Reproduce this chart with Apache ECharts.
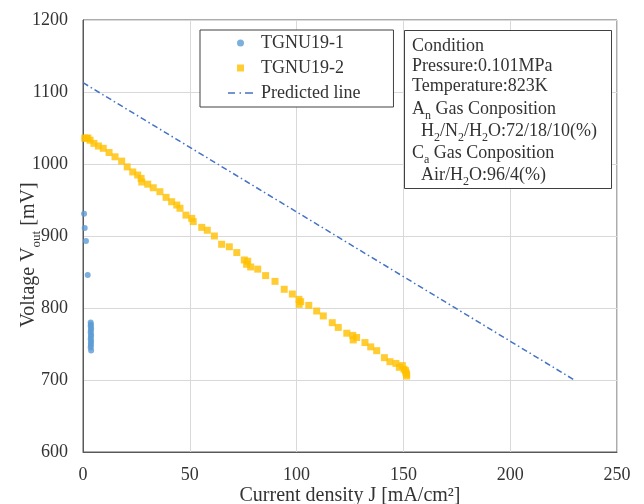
<!DOCTYPE html>
<html>
<head>
<meta charset="utf-8">
<script src="https://cdn.jsdelivr.net/npm/echarts@6/dist/echarts.min.js"></script>
<style>html,body{margin:0;padding:0;background:#fff}#c{width:644px;height:504px}</style>
</head>
<body>
<div id="c"></div>
<script>
// ---- data ----
var xTicks = [0, 50, 100, 150, 200, 250];
var yTicks = [600, 700, 800, 900, 1000, 1100, 1200];
var tgnu1J = [0.5, 0.8, 1.4, 2.2, 3.6, 3.7, 3.6, 3.8, 3.7, 3.6, 3.8, 3.7, 3.6, 3.8, 3.7, 3.7, 3.6, 3.8];
var tgnu1V = [931, 911, 893, 846, 780, 777, 775, 772, 769, 766, 763, 760, 757, 754, 751, 748, 745, 741];
var tgnu2J = [0.8, 1.7, 2.3, 3.3, 5.1, 7.2, 9.5, 12.2, 15.0, 18.1, 20.7, 23.3, 25.6, 27.2, 27.5, 30.3, 32.9, 36.0, 38.9, 41.5, 43.9, 45.4, 48.2, 50.9, 51.6, 55.6, 58.2, 61.5, 64.9, 68.5, 72.0, 75.5, 77.1, 76.6, 78.5, 81.8, 85.5, 89.9, 94.2, 98.0, 101.1, 101.9, 101.2, 105.7, 109.4, 112.5, 116.7, 119.5, 123.5, 126.3, 128.1, 126.5, 132.0, 134.7, 137.5, 141.1, 143.7, 146.5, 148.1, 149.5, 150.3, 151.0, 151.2, 151.5, 151.5];
var tgnu2V = [1036, 1035.7, 1036, 1033, 1028.7, 1025, 1021.8, 1016, 1010, 1004, 996, 989, 984.7, 980, 975, 972, 967, 961.5, 953.7, 947.6, 943, 938.5, 929, 924.5, 920, 912, 908, 900, 888.5, 885, 877, 866.7, 865, 860.7, 857, 854, 845, 837, 826, 819.4, 812, 808.8, 805, 803.7, 795.8, 789, 779.6, 773, 765, 762, 759, 755.6, 752, 746, 740.7, 731, 725.4, 723, 717.6, 720, 715, 713, 710, 708, 705.5];
var predJ = [0, 230];
var predV = [1113, 700];
var seriesNames = ['TGNU19-1', 'TGNU19-2', 'Predicted line'];
var conditionLines = [
  '{m|Condition}',
  '{m|Pressure:0.101MPa}',
  '{m|Temperature:823K}',
  '{m|A}{s|n}{m| Gas Conposition}',
  '{m|  H}{s|2}{m|/N}{s|2}{m|/H}{s|2}{m|O:72/18/10(%)}',
  '{m|C}{s|a}{m| Gas Conposition}',
  '{m|  Air/H}{s|2}{m|O:96/4(%)}'
];

function zip(a, b) { return a.map(function (v, i) { return [v, b[i]]; }); }

var FONT = '"Liberation Serif", "Times New Roman", serif';
var TXT = '#333333';
var richSub = {
  m: { fontFamily: FONT, fontSize: 18, color: TXT, lineHeight: 20, verticalAlign: 'top' },
  s: { fontFamily: FONT, fontSize: 12, color: TXT, lineHeight: 12, padding: [10, 0, 0, 0], verticalAlign: 'top' }
};

var chart = echarts.init(document.getElementById('c'), null, { renderer: 'canvas' });

var condY = [48, 68, 88, 111, 133, 155, 177];
var graphics = [{
  type: 'rect', left: 404, top: 30, z: 100,
  shape: { x: 0, y: 0, width: 207, height: 158 },
  style: { fill: '#fff', stroke: '#404040', lineWidth: 1 }
}];
conditionLines.forEach(function (t, i) {
  graphics.push({
    type: 'text', x: 412, y: condY[i] - 11, z: 101,
    style: { text: t, rich: richSub, textAlign: 'left', textVerticalAlign: 'top', font: '18px ' + FONT, fill: TXT }
  });
});

var dashDotIcon = 'path://M0,0H7V1.5H0Z M11.5,0H13V1.5H11.5Z M17,0H25V1.5H17Z';
var squareIcon = 'path://M0,0H1V1H0Z';

chart.setOption({
  animation: false,
  backgroundColor: '#fff',
  grid: { left: 83, right: 27, top: 20, bottom: 52, containLabel: false, outerBoundsMode: 'none', show: true, borderColor: '#595959', borderWidth: 1, backgroundColor: 'transparent' },
  legend: {
    orient: 'vertical', left: 200, top: 30,
    padding: [4, 33, 5, 28], itemGap: 7, itemWidth: 25, itemHeight: 7,
    backgroundColor: '#fff', borderColor: '#404040', borderWidth: 1,
    textStyle: { fontFamily: FONT, fontSize: 18, color: TXT, lineHeight: 18, padding: [0, 0, 0, 3] },
    data: [
      { name: seriesNames[0] },
      { name: seriesNames[1], icon: squareIcon },
      { name: seriesNames[2], icon: dashDotIcon }
    ]
  },
  xAxis: {
    type: 'value', min: xTicks[0], max: xTicks[xTicks.length - 1], interval: 50,
    name: 'Current density J [mA/cm²]', nameLocation: 'middle', nameGap: 34, nameMoveOverlap: false,
    nameTextStyle: { fontFamily: FONT, fontSize: 20, color: TXT },
    axisLine: { show: true, lineStyle: { color: '#595959', width: 1 } },
    axisTick: { show: false },
    axisLabel: { fontFamily: FONT, fontSize: 18, color: TXT, margin: 14, formatter: function (v) { return String(v); } },
    splitLine: { show: true, lineStyle: { color: '#d9d9d9', width: 1 } }
  },
  yAxis: {
    type: 'value', min: yTicks[0], max: yTicks[yTicks.length - 1], interval: 100,
    name: '{a|Voltage V}{b|out}{a| [mV]}', nameLocation: 'middle', nameGap: 42, nameMoveOverlap: false,
    nameTextStyle: {
      padding: [0, 38, 0, 0],
      rich: {
        a: { fontFamily: FONT, fontSize: 20, color: TXT, lineHeight: 22, verticalAlign: 'top' },
        b: { fontFamily: FONT, fontSize: 13, color: TXT, lineHeight: 13, padding: [11, 0, 0, 0], verticalAlign: 'top' }
      }
    },
    axisLine: { show: true, lineStyle: { color: '#595959', width: 1 } },
    axisTick: { show: false },
    axisLabel: { fontFamily: FONT, fontSize: 18, color: TXT, margin: 15, formatter: function (v) { return String(v); } },
    splitLine: { show: true, lineStyle: { color: '#d9d9d9', width: 1 } }
  },
  graphic: graphics,
  series: [
    {
      name: seriesNames[0], type: 'scatter', symbol: 'circle', symbolSize: 6,
      itemStyle: { color: '#5B9BD5' }, data: zip(tgnu1J, tgnu1V), z: 3
    },
    {
      name: seriesNames[1], type: 'scatter', symbol: 'rect', symbolSize: 7,
      itemStyle: { color: '#FFC000' }, data: zip(tgnu2J, tgnu2V), z: 3
    },
    {
      name: seriesNames[2], type: 'line', symbol: 'none', showSymbol: false,
      lineStyle: { color: '#4472C4', width: 1.5, type: [6, 3, 1.5, 3] },
      itemStyle: { color: '#4472C4' },
      data: zip(predJ, predV), z: 2
    }
  ]
});
</script>
</body>
</html>
